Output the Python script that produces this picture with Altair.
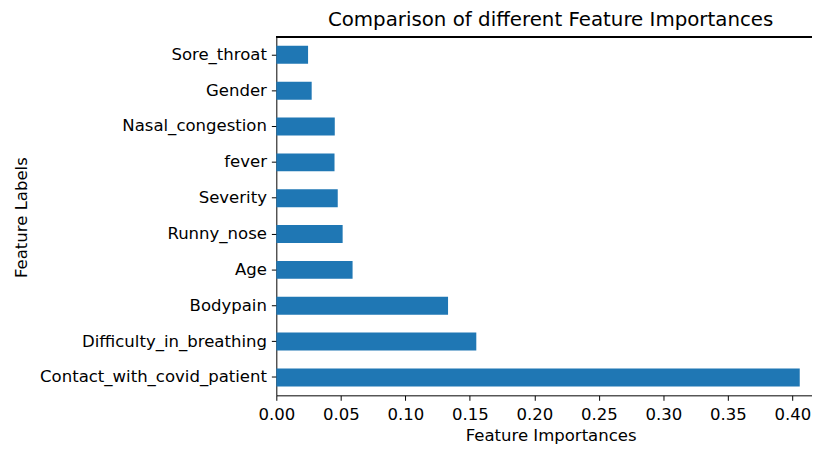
import altair as alt
import pandas as pd

features = ["Sore_throat", "Gender", "Nasal_congestion", "fever", "Severity",
            "Runny_nose", "Age", "Bodypain", "Difficulty_in_breathing",
            "Contact_with_covid_patient"]
importances = [0.0246, 0.0274, 0.0453, 0.0451, 0.0476, 0.0514, 0.0591, 0.1331, 0.1550, 0.4057]
x_ticks = [0.0, 0.05, 0.10, 0.15, 0.20, 0.25, 0.30, 0.35, 0.40]

df = pd.DataFrame({"feature": features, "importance": importances})

W, H = 541, 362
FONT = "DejaVu Sans"

bars = alt.Chart(df).mark_bar(color="#1f77b4").encode(
    x=alt.X("importance:Q",
            scale=alt.Scale(domain=[0, 0.4152], nice=False, zero=True),
            axis=alt.Axis(values=x_ticks, format=".2f", title="Feature Importances",
                          grid=False, titleX=277, titleY=41, titleBaseline="middle",
                          titleAlign="center", labelPadding=6, labelFlush=False)),
    y=alt.Y("feature:N", sort=features,
            scale=alt.Scale(paddingInner=0.5, paddingOuter=0.25),
            axis=alt.Axis(title="Feature Labels", grid=False, titleX=-257, titleY=182,
                          titleAngle=-90, titleBaseline="middle", titleAlign="center",
                          labelPadding=5, labelLimit=0)),
)

top_spine = alt.Chart(df).mark_rule(color="black", strokeWidth=1).encode(
    x=alt.value(0), x2=alt.value(W + 20), y=alt.value(0)
)

chart = alt.layer(bars, top_spine).properties(
    width=W, height=H,
    title=alt.TitleParams("Comparison of different Feature Importances",
                          anchor="middle", frame="group", dx=6.5, offset=7,
                          fontSize=20, fontWeight="normal", font=FONT, color="black"),
    autosize=alt.AutoSizeParams(type="none"),
    padding={"left": 271, "top": 27, "right": 0, "bottom": 53},
).configure_view(stroke=None).configure_axis(
    labelFont=FONT, titleFont=FONT, labelFontSize=16.7, titleFontSize=16.7,
    labelColor="black", titleColor="black", titleFontWeight="normal",
    domainColor="black", domainWidth=1, tickColor="black", tickWidth=1, tickSize=5,
)

chart.save("out.html", embed_options={"renderer": "svg", "actions": False})
